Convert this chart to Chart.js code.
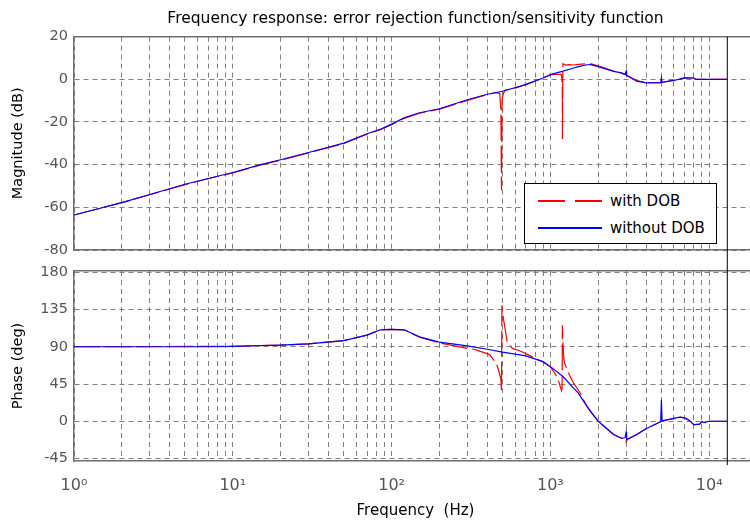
<!DOCTYPE html>
<html>
<head>
<meta charset="utf-8">
<script src="https://cdn.jsdelivr.net/npm/chart.js@4.4.0/dist/chart.umd.min.js"></script>
<style>
  html, body { margin: 0; padding: 0; background: #fff; }
  #wrap { position: relative; width: 750px; height: 522px; overflow: hidden; }
  #magChart { position: absolute; left: 0; top: 0; }
  #phaseChart { position: absolute; left: 0; top: 262px; }
  #legend {
    position: absolute; left: 524px; top: 183px; width: 193px; height: 61px;
    border: 1px solid #000; background: #fff; box-sizing: border-box;
    font: 15px 'DejaVu Sans', sans-serif; color: #000;
  }
  #legend .row { position: absolute; left: 13px; height: 20px; display: flex; align-items: center; }
  #legend .sample { width: 64px; height: 1.5px; margin-right: 8px; }
</style>
</head>
<body>
<div id="wrap">
  <canvas id="magChart" width="760" height="262"></canvas>
  <canvas id="phaseChart" width="760" height="260"></canvas>
  <div id="legend"></div>
</div>
<script>
// without DOB
const freqBlue = [1, 2, 3, 5, 7, 10, 15, 20, 30, 50, 70, 85, 100, 120, 150, 200, 300, 400, 500, 700,
  900, 1000, 1200, 1400, 1500, 1700, 1800, 2000, 2500, 2800, 2950, 3000, 3020, 3500, 4000, 4950, 5000, 5050, 6000, 6500,
  7000, 7500, 8000, 8200, 8700, 9000, 9300, 10000, 13000];
const magBlue = [-63.6, -57.8, -54, -49.2, -46.5, -43.7, -40, -37.7, -34.3, -29.9, -25.5, -23.4, -21, -18, -15.7, -13.8, -9.6, -7, -5.6, -2.5,
  0.6, 2.2, 3.8, 5.3, 5.9, 6.8, 6.9, 5.9, 3.7, 3, 2.3, 3.8, 1.8, -0.9, -1.7, -1.7, 0.6, -1.4, -0.5, 0,
  0.5, 0.6, 0.6, 0, 0, 0, 0, 0, 0];
const phaseBlue = [90, 90, 90, 90, 90, 90.5, 91.5, 92, 93.5, 97.5, 104, 110.5, 111, 110.5, 102, 95.5, 91, 87, 83.5, 79,
  72, 66, 54, 40, 34, 18, 11, 0, -16, -20.5, -20, -13, -22, -16, -9, -0.5, 26, 0.5, 3.5, 5,
  4, 1, -4, -4, -3.5, -0.5, -1.5, 0, 0];

// with DOB
const freqRedMag = [1, 2, 3, 5, 7, 10, 15, 20, 30, 50, 70, 85, 100, 120, 150, 200, 300, 400, 450, 480,
  488, 490, 492, 494, 497, 505, 520, 600, 700, 900, 1000, 1050, 1100, 1170, 1180, 1188, 1191, 1195, 1200, 1250,
  1300, 1400, 1500, 1700, 1800, 2000, 2500, 2800, 3000, 3500, 4000, 5000, 6000, 6500, 7000, 7500, 8000, 8200, 9000, 10000,
  13000];
const magRed = [-63.6, -57.8, -54.1, -49.4, -46.6, -43.9, -40.1, -37.9, -34.5, -30.1, -25.7, -23.6, -21.3, -18.3, -15.9, -14, -9.9, -7.2, -6.3, -6.6,
  -15, -35, -52, -30, -9, -6.8, -5, -4.2, -2.4, 0.7, 2, 2.3, 2.3, 2.3, 1, -4, -28, -3, 7.3, 6.6,
  6.9, 6.7, 7, 7.3, 7.2, 6.3, 3.9, 2.9, 2, -0.6, -1.5, -1.5, -0.4, 0.2, 0.8, 0.7, 0.6, 0, 0, 0,
  0];
const freqRedPhase = [1, 10, 20, 30, 50, 70, 85, 100, 120, 150, 200, 250, 300, 330, 354, 415, 457, 475, 488, 492,
  495, 500, 520, 534, 577, 650, 750, 817, 900, 1000, 1067, 1120, 1175, 1185, 1190, 1200, 1215, 1230, 1294, 1400,
  1531, 1700, 2000, 2500, 2800, 2980, 3000, 3050, 3500, 4000, 5000, 6000, 6500, 7000, 7500, 8000, 8700, 9000, 10000, 13000];
const phaseRed = [90, 90.5, 92, 93.5, 97.5, 104, 110.5, 111, 110.5, 101.5, 94.5, 91, 88, 87, 85, 80.5, 69.5, 60, 50, 36,
  140, 130, 110, 96, 88, 84.5, 79, 75, 71.5, 65.5, 58, 50, 37, 40, 116, 95, 75, 70, 59, 46,
  35, 18, 0, -16, -20.5, -20.5, -25, -22, -16, -9, 0, 3.5, 5, 4, 1, -4, -3.5, -0.5, 0, 0];

// vertical black marker line at the end of the frequency sweep
const endLineHz = 13000;
const magTicks = [-80, -60, -40, -20, 0, 20];
const phaseTicks = [-45, 0, 45, 90, 135, 180];
const seriesLabels = ['without DOB', 'with DOB'];
const seriesColors = ['#0000ff', '#ff0000'];

const gridColor = '#808080';
const frameColor = '#6e6e6e';
const tickColor = '#555';
Chart.defaults.font.family = "'DejaVu Sans', sans-serif";

const decadeTicks = [];
for (let k = 0; k <= 4; k++) {
  for (let m = 1; m <= 9; m++) {
    if (m * Math.pow(10, k) <= 10000) decadeTicks.push(m * Math.pow(10, k));
  }
}
decadeTicks.push(20000);

const sup = ['\u2070', '\u00b9', '\u00b2', '\u00b3', '\u2074'];

function pts(xs, ys) {
  return xs.map((x, i) => ({ x: x, y: ys[i] }));
}

function freqAxis(showLabels) {
  return {
    type: 'logarithmic',
    min: 1,
    max: 20000,
    afterBuildTicks: (s) => { s.ticks = decadeTicks.map(v => ({ value: v })); },
    afterFit: (s) => {
      s.height = showLabels ? 61 : 12;
      s.paddingLeft = 0; s.paddingRight = 0;
    },
    grid: { color: gridColor, lineWidth: 1, drawTicks: false },
    border: { display: true, color: frameColor, width: 1.5, dash: [5, 4] },
    ticks: {
      display: showLabels, autoSkip: false, maxRotation: 0, padding: 15,
      color: tickColor, font: { size: 16 },
      callback: (v) => {
        const k = Math.round(Math.log10(v));
        return Math.abs(Math.log10(v) - k) < 1e-9 && k <= 4 ? '10' + sup[k] : '';
      }
    },
    title: {
      display: showLabels, text: 'Frequency  (Hz)', color: '#000',
      font: { size: 15 }, padding: { top: 0, bottom: 2 }
    }
  };
}

function valueAxis(min, max, ticks, label) {
  return {
    min: min,
    max: max,
    afterFit: (s) => {
      s.width = 74;
      s.paddingTop = 0; s.paddingBottom = 0;
    },
    afterBuildTicks: (s) => { s.ticks = ticks.map(v => ({ value: v })); },
    grid: { color: gridColor, lineWidth: 1, drawTicks: false },
    border: { display: true, color: frameColor, width: 1.5, dash: [5, 4] },
    ticks: { padding: 6, color: tickColor, font: { size: 14.5 } },
    title: { display: true, text: label, color: '#000', font: { size: 14.5 }, padding: { top: 10, bottom: 0 } }
  };
}

const frameAxis = {
  type: 'linear', position: 'top', min: 0, max: 1,
  afterFit: (s) => { s.height = 0; },
  grid: { display: false, drawTicks: false },
  border: { display: true, color: frameColor, width: 1.5 },
  ticks: { display: false }
};

function datasets(redX, redY, blueY, lineLo, lineHi) {
  return [
    { label: seriesLabels[0], data: pts(freqBlue, blueY), borderColor: seriesColors[0], borderWidth: 1.2 },
    { label: seriesLabels[1], data: pts(redX, redY), borderColor: seriesColors[1], borderWidth: 1.2, borderDash: [26, 5] },
    { label: '', data: [{ x: endLineHz, y: lineLo }, { x: endLineHz, y: lineHi }], borderColor: '#000', borderWidth: 1, clip: false }
  ];
}

const common = {
  responsive: false,
  animation: false,
  elements: { point: { radius: 0 }, line: { tension: 0 } }
};

new Chart(document.getElementById('magChart'), {
  type: 'line',
  data: { datasets: datasets(freqRedMag, magRed, magBlue, -86, 20) },
  options: Object.assign({}, common, {
    layout: { padding: { top: 0, right: 3, bottom: 0, left: 0 } },
    plugins: {
      legend: { display: false },
      tooltip: { enabled: false },
      title: {
        display: true, fullSize: false, color: '#000',
        text: 'Frequency response: error rejection function/sensitivity function',
        font: { size: 15.5, weight: 'normal' }, padding: { top: 10, bottom: 8 }
      }
    },
    scales: {
      x: freqAxis(false),
      y: valueAxis(-80, 20, magTicks, 'Magnitude (dB)'),
      frame: frameAxis
    }
  })
});

new Chart(document.getElementById('phaseChart'), {
  type: 'line',
  data: { datasets: datasets(freqRedPhase, phaseRed, phaseBlue, -53, 193) },
  options: Object.assign({}, common, {
    layout: { padding: { top: 9, right: 3, bottom: 0, left: 0 } },
    plugins: { legend: { display: false }, tooltip: { enabled: false } },
    scales: {
      x: freqAxis(true),
      y: valueAxis(-48, 181.5, phaseTicks, 'Phase (deg)'),
      frame: frameAxis
    }
  })
});

// legend box: red dashed first, then blue
const legend = document.getElementById('legend');
[1, 0].forEach((i, row) => {
  const div = document.createElement('div');
  div.className = 'row';
  div.style.top = (row === 0 ? 7 : 34) + 'px';
  const sample = document.createElement('span');
  sample.className = 'sample';
  sample.style.background = i === 1
    ? 'repeating-linear-gradient(to right, ' + seriesColors[i] + ' 0 27px, transparent 27px 37px)'
    : seriesColors[i];
  const txt = document.createElement('span');
  txt.textContent = seriesLabels[i];
  div.appendChild(sample);
  div.appendChild(txt);
  legend.appendChild(div);
});
</script>
</body>
</html>
